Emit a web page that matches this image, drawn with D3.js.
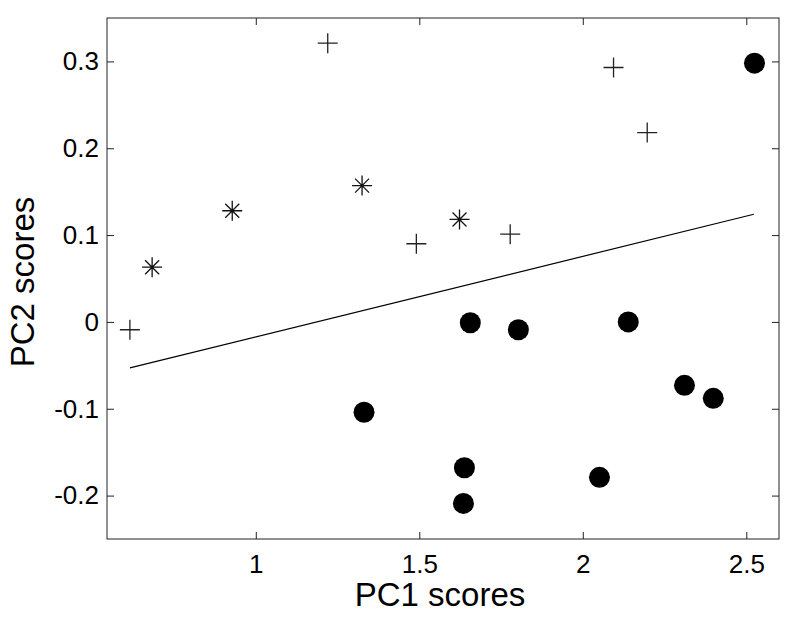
<!DOCTYPE html>
<html>
<head>
<meta charset="utf-8">
<script src="https://cdn.jsdelivr.net/npm/d3@7"></script>
<style>
  body { margin: 0; background: #fff; }
  text { font-family: Arial, "Liberation Sans", sans-serif; fill: #000; }
</style>
</head>
<body>
<svg id="chart" width="798" height="620"></svg>
<script>
// group 1: filled circles
const circleX = [2.525, 1.656, 1.803, 2.139, 2.311, 2.399, 1.331, 1.638, 1.635, 2.051];
const circleY = [0.298, -0.001, -0.009, 0.000, -0.073, -0.088, -0.104, -0.168, -0.209, -0.179];
// group 2: plus markers
const plusX = [0.615, 1.220, 2.094, 2.197, 1.491, 1.778];
const plusY = [-0.009, 0.321, 0.293, 0.218, 0.090, 0.101];
// group 3: asterisks
const starX = [0.683, 0.928, 1.325, 1.623];
const starY = [0.063, 0.128, 0.157, 0.118];
// separating line
const lineX = [0.615, 2.523];
const lineY = [-0.053, 0.124];

const xTicks = [1, 1.5, 2, 2.5];
const yTicks = [-0.2, -0.1, 0, 0.1, 0.2, 0.3];

const svg = d3.select("#chart");
const plotLeft = 107, plotRight = 779, plotTop = 18, plotBottom = 539;

const x = d3.scaleLinear().domain([0.545, 2.6]).range([plotLeft, plotRight]);
const y = d3.scaleLinear().domain([-0.25, 0.35]).range([plotBottom, plotTop]);

const zip = (a, b) => a.map((v, i) => [v, b[i]]);

// frame
svg.append("rect")
    .attr("x", plotLeft).attr("y", plotTop)
    .attr("width", plotRight - plotLeft).attr("height", plotBottom - plotTop)
    .attr("fill", "none").attr("stroke", "#222").attr("stroke-width", 1);

// axes with inward ticks
const fmt = d => d === 0 ? "0" : String(d);
svg.append("g").attr("transform", `translate(0,${plotBottom})`)
    .call(d3.axisBottom(x).tickValues(xTicks).tickSizeInner(-7).tickSizeOuter(0).tickPadding(16).tickFormat(fmt))
    .call(g => g.select(".domain").remove())
    .call(g => g.selectAll("text").style("font-size", "26px").attr("fill", "#000"));
svg.append("g").attr("transform", `translate(0,${plotTop})`)
    .call(d3.axisTop(x).tickValues(xTicks).tickSizeInner(-7).tickSizeOuter(0).tickFormat(""))
    .call(g => g.select(".domain").remove());
svg.append("g").attr("transform", `translate(${plotLeft},0)`)
    .call(d3.axisLeft(y).tickValues(yTicks).tickSizeInner(-7).tickSizeOuter(0).tickPadding(8).tickFormat(fmt))
    .call(g => g.select(".domain").remove())
    .call(g => g.selectAll("text").style("font-size", "26px").attr("fill", "#000"));
svg.append("g").attr("transform", `translate(${plotRight},0)`)
    .call(d3.axisRight(y).tickValues(yTicks).tickSizeInner(-7).tickSizeOuter(0).tickFormat(""))
    .call(g => g.select(".domain").remove());
svg.selectAll(".tick line").attr("stroke", "#222");

// line
svg.append("path")
    .datum(zip(lineX, lineY))
    .attr("d", d3.line().x(d => x(d[0])).y(d => y(d[1])))
    .attr("fill", "none").attr("stroke", "#000").attr("stroke-width", 1.2);

// plus markers
const pg = svg.append("g").selectAll("g").data(zip(plusX, plusY)).join("g")
    .attr("transform", d => `translate(${x(d[0])},${y(d[1])})`);
pg.append("path").attr("d", "M-10,0H10M0,-10V10")
    .attr("stroke", "#222").attr("stroke-width", 1.3).attr("fill", "none");

// asterisks
const sg = svg.append("g").selectAll("g").data(zip(starX, starY)).join("g")
    .attr("transform", d => `translate(${x(d[0])},${y(d[1])})`);
sg.append("path").attr("d", "M-10,0H10M0,-10V10M-7,-7L7,7M-7,7L7,-7")
    .attr("stroke", "#111").attr("stroke-width", 1.3).attr("fill", "none");

// filled circles
svg.append("g").selectAll("circle").data(zip(circleX, circleY)).join("circle")
    .attr("cx", d => x(d[0])).attr("cy", d => y(d[1]))
    .attr("r", 10.5).attr("fill", "#000");

// axis labels
svg.append("text").attr("x", 440).attr("y", 606)
    .attr("text-anchor", "middle").style("font-size", "33px").text("PC1 scores");
svg.append("text").attr("transform", "translate(34,282) rotate(-90)")
    .attr("text-anchor", "middle").style("font-size", "33px").text("PC2 scores");
</script>
</body>
</html>
